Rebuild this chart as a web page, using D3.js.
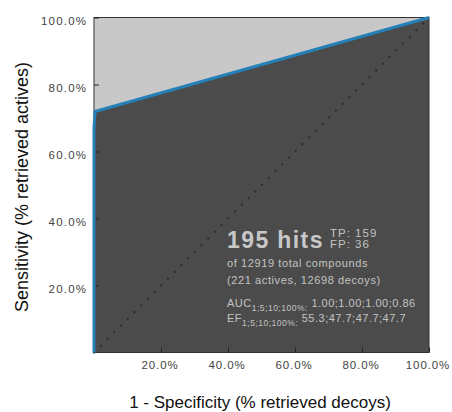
<!DOCTYPE html>
<html>
<head>
<meta charset="utf-8">
<script src="https://cdn.jsdelivr.net/npm/d3@7"></script>
<style>
body{margin:0;background:#fff;}
svg text, svg tspan{font-family:"Liberation Sans",Arial,sans-serif;}
</style>
</head>
<body>
<svg id="chart" width="452" height="412"></svg>
<script>
// ROC curve points: [1 - specificity, sensitivity]
const rocX = [0, 0, 0.003, 1];
const rocY = [0, 0.67, 0.7195, 1];
const tickValues = [0.2, 0.4, 0.6, 0.8, 1.0];
const tickLabels = ["20.0%", "40.0%", "60.0%", "80.0%", "100.0%"];
const hits = 195, tp = 159, fp = 36;
const totalCompounds = 12919, actives = 221, decoys = 12698;
const aucValues = ["1.00", "1.00", "1.00", "0.86"];
const efValues = ["55.3", "47.7", "47.7", "47.7"];
const subLabel = "1;5;10;100%";

const svg = d3.select("#chart");
const m = {left: 94, top: 17.5, size: 335};
const x = d3.scaleLinear().domain([0, 1]).range([m.left, m.left + m.size]);
const y = d3.scaleLinear().domain([0, 1]).range([m.top + m.size, m.top]);

const pts = rocX.map((v, i) => [v, rocY[i]]);

// light background
svg.append("rect").attr("x", x(0)).attr("y", y(1))
  .attr("width", x(1) - x(0)).attr("height", y(0) - y(1))
  .attr("fill", "#c8c8c8");

// dark area under curve
svg.append("path").datum(pts)
  .attr("d", d3.area().x(d => x(d[0])).y0(y(0)).y1(d => y(d[1])))
  .attr("fill", "#4b4b4b");

// random diagonal
svg.append("line").attr("x1", x(0)).attr("y1", y(0)).attr("x2", x(1)).attr("y2", y(1))
  .attr("stroke", "#303030").attr("stroke-width", 2.4)
  .attr("stroke-dasharray", "0.1 9.4").attr("stroke-linecap", "round");

// border
svg.append("rect").attr("x", x(0)).attr("y", y(1))
  .attr("width", x(1) - x(0)).attr("height", y(0) - y(1))
  .attr("fill", "none").attr("stroke", "#333").attr("stroke-width", 1);

// axes (inner ticks)
const xAxis = d3.axisBottom(x).tickValues(tickValues).tickFormat((d, i) => tickLabels[i])
  .tickSizeInner(-5).tickSizeOuter(0).tickPadding(8);
const yAxis = d3.axisLeft(y).tickValues(tickValues).tickFormat((d, i) => tickLabels[i])
  .tickSizeInner(-5).tickSizeOuter(0).tickPadding(8);

const gx = svg.append("g").attr("transform", `translate(0,${y(0)})`).call(xAxis);
const gy = svg.append("g").attr("transform", `translate(${x(0)},0)`).call(yAxis);
[gx, gy].forEach(g => {
  g.select(".domain").remove();
  g.selectAll(".tick line").attr("stroke", "#222");
  g.selectAll(".tick text").attr("fill", "#444").attr("font-size", 11.5)
    .attr("font-family", "Liberation Sans, Arial, sans-serif");
});
gx.selectAll(".tick text").attr("letter-spacing", "0.9px").attr("dx", -1.5);
gy.selectAll(".tick text").attr("letter-spacing", "1.2px").attr("dx", 1.2).attr("dy", "0.6em");

// ROC curve
svg.append("path").datum(pts)
  .attr("d", d3.line().x(d => x(d[0])).y(d => y(d[1])))
  .attr("fill", "none").attr("stroke", "#2580b8").attr("stroke-width", 3)
  .attr("stroke-linejoin", "round");

// axis titles
svg.append("text").attr("x", 260).attr("y", 408).attr("text-anchor", "middle")
  .attr("font-size", 17).attr("fill", "#111").text("1 - Specificity (% retrieved decoys)");
svg.append("text").attr("transform", `translate(28,187) rotate(-90)`)
  .attr("text-anchor", "middle").attr("font-size", 18).attr("fill", "#111")
  .text("Sensitivity (% retrieved actives)");

// annotation
const tx = 227, col = "#c3c3c3";
svg.append("text").attr("x", tx).attr("y", 248).attr("font-size", 23).attr("font-weight", "bold")
  .attr("letter-spacing", "1.4px").attr("fill", "#c8c8c8").text(`${hits} hits`);
svg.append("text").attr("x", 330).attr("y", 237).attr("font-size", 11.5).attr("letter-spacing", "1px")
  .attr("fill", col).text(`TP: ${tp}`);
svg.append("text").attr("x", 330).attr("y", 248).attr("font-size", 11.5).attr("letter-spacing", "1px")
  .attr("fill", col).text(`FP: ${fp}`);
svg.append("text").attr("x", tx).attr("y", 266.5).attr("font-size", 11).attr("letter-spacing", "0.6px")
  .attr("fill", col).text(`of ${totalCompounds} total compounds`);
svg.append("text").attr("x", tx).attr("y", 284).attr("font-size", 11).attr("letter-spacing", "0.6px")
  .attr("fill", col).text(`(${actives} actives, ${decoys} decoys)`);
function metric(label, vals, yy) {
  const t = svg.append("text").attr("x", tx).attr("y", yy).attr("font-size", 11)
    .attr("letter-spacing", "0.5px").attr("fill", col);
  t.append("tspan").text(label);
  t.append("tspan").attr("font-size", 8.5).attr("dy", 3.5).attr("letter-spacing", "0.5px").text(subLabel + ":");
  t.append("tspan").attr("dy", -3.5).text(" " + vals.join(";"));
}
metric("AUC", aucValues, 307);
metric("EF", efValues, 322);
</script>
</body>
</html>
